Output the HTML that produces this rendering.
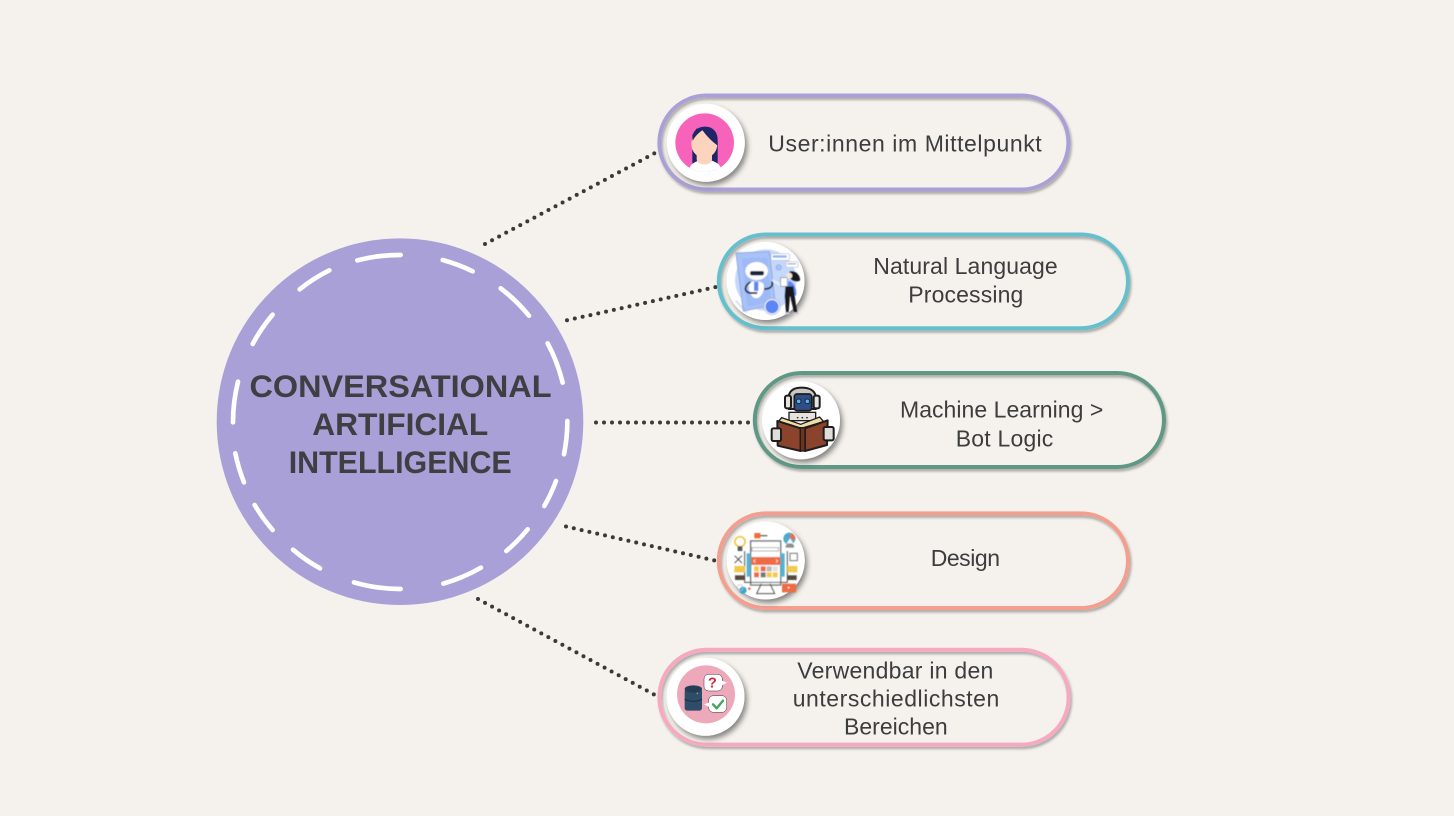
<!DOCTYPE html>
<html lang="de">
<head>
<meta charset="utf-8">
<title>Conversational Artificial Intelligence</title>
<style>
html,body{margin:0;padding:0;background:#f5f2ed;width:1454px;height:816px;overflow:hidden}
svg{display:block}
.t{font-family:"Liberation Sans",sans-serif;font-size:23px;fill:#3d3d3d}
.h{font-family:"Liberation Sans",sans-serif;font-size:31.5px;font-weight:bold;fill:#3f3e43}
.pill{fill:none;stroke-width:4;filter:url(#ps)}
.av{fill:#fff;filter:url(#as)}
.dot{fill:none;stroke:#3a3838;stroke-width:4;stroke-linecap:round;stroke-dasharray:0 8}
.ic{filter:url(#soft)}
</style>
</head>
<body>
<svg width="1454" height="816" viewBox="0 0 1454 816" xmlns="http://www.w3.org/2000/svg">
<defs>
<filter id="ps" x="-5%" y="-15%" width="110%" height="130%"><feDropShadow dx="1.5" dy="2.5" stdDeviation="1.4" flood-color="#000" flood-opacity=".3"/></filter>
<filter id="as" x="-20%" y="-20%" width="150%" height="150%"><feDropShadow dx="2.5" dy="3.5" stdDeviation="2.6" flood-color="#000" flood-opacity=".45"/></filter>
<filter id="soft" x="-5%" y="-5%" width="110%" height="110%"><feGaussianBlur stdDeviation="1.2"/></filter>
<clipPath id="c1"><circle cx="164" cy="173" r="88"/></clipPath>
</defs>
<rect width="1454" height="816" fill="#f5f2ed"/>

<!-- connectors -->
<path class="dot" d="M485 244L655 153"/>
<path class="dot" d="M567 320.3L716 287"/>
<path class="dot" d="M596 422.5L751 422.5"/>
<path class="dot" d="M566 526.5L717 561"/>
<path class="dot" d="M478 599L655 695"/>

<!-- main circle -->
<circle cx="400" cy="421.7" r="183.3" fill="#a8a0d6"/>
<g transform="translate(210 235) scale(.33333)" fill="none" stroke="#fff" stroke-width="14" stroke-linecap="round">
<path d="M442 76A502 502 0 0 1 572 60"/>
<path d="M698 75A502 502 0 0 1 788 109"/>
<path d="M872 160A502 502 0 0 1 957 242"/>
<path d="M1013 325A502 502 0 0 1 1058 443"/>
<path d="M1072 558A502 502 0 0 1 1062 658"/>
<path d="M1038 738A502 502 0 0 1 1003 813"/>
<path d="M953 883A502 502 0 0 1 889 948"/>
<path d="M813 998A502 502 0 0 1 700 1046"/>
<path d="M572 1062A502 502 0 0 1 432 1042"/>
<path d="M330 1000A502 502 0 0 1 249 944"/>
<path d="M188 885A502 502 0 0 1 134 810"/>
<path d="M102 742A502 502 0 0 1 76 655"/>
<path d="M69 562A502 502 0 0 1 84 440"/>
<path d="M128 327A502 502 0 0 1 188 239"/>
<path d="M269 163A502 502 0 0 1 358 106"/>
</g>
<text class="h" x="249.5" y="397" textLength="302" lengthAdjust="spacingAndGlyphs">CONVERSATIONAL</text>
<text class="h" x="312.3" y="435" textLength="176" lengthAdjust="spacingAndGlyphs">ARTIFICIAL</text>
<text class="h" x="288.7" y="473" textLength="223" lengthAdjust="spacingAndGlyphs">INTELLIGENCE</text>

<!-- pills -->
<rect class="pill" stroke="#a8a0d6" x="659.4" y="95.5" width="409" height="94" rx="47"/>
<rect class="pill" stroke="#65bfcd" x="718.8" y="234.5" width="409.2" height="93.7" rx="46.8"/>
<rect class="pill" stroke="#5f9986" x="754.8" y="373" width="409.2" height="94" rx="47"/>
<rect class="pill" stroke="#f49e8f" x="718.8" y="513.4" width="409.2" height="94.6" rx="47"/>
<rect class="pill" stroke="#f6a9c1" x="659.4" y="649.8" width="409.2" height="94.8" rx="47"/>

<!-- avatars -->
<circle class="av" cx="705.8" cy="142.8" r="39"/>
<circle class="av" cx="765.5" cy="281" r="39"/>
<circle class="av" cx="801" cy="420.3" r="39"/>
<circle class="av" cx="765.7" cy="560.5" r="39"/>
<circle class="av" cx="705.5" cy="696.7" r="39"/>

<!-- icon 1: user -->
<g transform="translate(650 85) scale(.33333)">
<circle cx="164" cy="173" r="88" fill="#f763bb"/>
<g clip-path="url(#c1)">
<path d="M127 235V160C127 137 145 125 165 125C190 125 203 142 203 165V235Z" fill="#1f2566"/>
<path d="M108 265L125 238Q140 226 165 222Q192 226 206 238L226 265Z" fill="#fff"/>
<path d="M140 200H186V222C186 244 140 244 140 222Z" fill="#fcd3bd"/>
<ellipse cx="163" cy="177" rx="39" ry="42" fill="#fcd3bd"/>
<path d="M155 132C180 128 204 145 203 182C190 172 170 155 155 132Z" fill="#1f2566"/>
<path d="M128 168C136 152 148 142 160 134L140 130L127 150Z" fill="#1f2566"/>
</g>
</g>

<!-- icon 2: NLP -->
<g transform="translate(710 225) scale(.33333)" class="ic">
<circle cx="167" cy="165" r="92" fill="#c6d8fa"/>
<path d="M78 84L178 80L196 238L100 258Z" fill="#a9c3f8" stroke="#8fa9e0" stroke-width="3"/>
<path d="M96 100L172 98L183 230L112 245Z" fill="#9db9f6"/>
<ellipse cx="140" cy="138" rx="34" ry="27" fill="#fff"/>
<rect x="120" y="138" width="42" height="13" rx="6" fill="#1d2440"/>
<path d="M117 175C125 166 155 166 161 178C165 198 152 220 138 220C122 218 114 195 117 175Z" fill="#fff"/>
<rect x="132" y="170" width="13" height="28" fill="#5b86f5"/>
<path d="M120 172C104 182 100 200 120 204L140 204M165 192C178 192 190 185 186 172" fill="none" stroke="#14151f" stroke-width="5" stroke-linecap="round"/>
<circle cx="186" cy="245" r="24" fill="#fff" stroke="#9aa9c8" stroke-width="2"/>
<circle cx="186" cy="245" r="20" fill="#5b86f5"/>
<rect x="183" y="86" width="55" height="20" rx="2" fill="#fff" stroke="#b0bcd8" stroke-width="2"/>
<rect x="188" y="91" width="42" height="7" fill="#8fb2f7"/>
<rect x="228" y="110" width="36" height="17" rx="2" fill="#fff" stroke="#b0bcd8" stroke-width="2"/>
<rect x="232" y="115" width="26" height="3" fill="#8a94a8"/>
<circle cx="206" cy="127" r="8" fill="#a9c3f8" stroke="#7e9fe8" stroke-width="2"/>
<path d="M238 140C250 132 272 148 270 166C262 172 248 170 240 160Z" fill="#14151f"/>
<path d="M235 168C252 168 262 195 258 212L232 214Z" fill="#5b86f5"/>
<path d="M226 184L250 184L258 240L262 262L252 262L240 212L236 262L228 262L224 214Z" fill="#14151f"/>
<path d="M186 162L214 176L212 184L188 170Z" fill="#e8eefc"/>
<rect x="212" y="158" width="20" height="26" fill="#fff" stroke="#6b7690" stroke-width="2"/>
<circle cx="238" cy="152" r="9" fill="#f5e4da"/>
<path d="M225 262h14v6h-14zM252 262h14v6h-14z" fill="#c8ccd6"/>
<path d="M78 228L110 262" stroke="#8fa9e0" stroke-width="5" stroke-dasharray="2 3"/>
</g>

<!-- icon 3: robot reading -->
<g transform="translate(745 365) scale(.33333)">
<path d="M132 90C136 75 150 68 170 68C192 68 208 76 212 92V132H132Z" fill="#c9c7c0" stroke="#1d1d1d" stroke-width="6"/>
<rect x="120" y="92" width="18" height="38" rx="6" fill="#e6e5e0" stroke="#1d1d1d" stroke-width="6"/>
<rect x="206" y="92" width="18" height="38" rx="6" fill="#e6e5e0" stroke="#1d1d1d" stroke-width="6"/>
<rect x="148" y="87" width="52" height="50" rx="8" fill="#2f4d86" stroke="#1d1d1d" stroke-width="5"/>
<circle cx="161" cy="109" r="7" fill="#58b2e8" stroke="#14233f" stroke-width="3"/>
<circle cx="187" cy="109" r="7" fill="#58b2e8" stroke="#14233f" stroke-width="3"/>
<rect x="132" y="142" width="80" height="25" fill="#e5e3dc" stroke="#1d1d1d" stroke-width="4"/>
<circle cx="158" cy="158" r="2.5" fill="#222"/><circle cx="172" cy="158" r="2.5" fill="#222"/><circle cx="186" cy="158" r="2.5" fill="#222"/>
<path d="M110 158L167 178L224 156L236 170L168 190L98 172Z" fill="#f0dca8" stroke="#1d1d1d" stroke-width="4"/>
<path d="M97 168L167 190V258L98 242Z" fill="#8b432b" stroke="#1d1d1d" stroke-width="6" stroke-linejoin="round"/>
<path d="M248 166L180 190V258L246 240Z" fill="#8b432b" stroke="#1d1d1d" stroke-width="6" stroke-linejoin="round"/>
<rect x="166" y="188" width="14" height="70" fill="#6f321e" stroke="#1d1d1d" stroke-width="4"/>
<rect x="80" y="190" width="28" height="38" rx="5" fill="#dfded8" stroke="#1d1d1d" stroke-width="6"/>
<rect x="236" y="186" width="30" height="40" rx="5" fill="#dfded8" stroke="#1d1d1d" stroke-width="6"/>
</g>

<!-- icon 4: design -->
<g transform="translate(710 505) scale(.33333)" class="ic">
<rect x="133" y="84" width="18" height="16" fill="#ee6a3a"/>
<path d="M150 92H172" stroke="#666" stroke-width="4"/>
<circle cx="90" cy="110" r="15" fill="#fff" stroke="#f2c531" stroke-width="5"/>
<rect x="83" y="124" width="14" height="14" fill="#555"/>
<rect x="122" y="108" width="90" height="132" fill="#fff" stroke="#6c6c6c" stroke-width="4"/>
<rect x="126" y="128" width="80" height="10" fill="#fff" stroke="#888" stroke-width="2"/>
<rect x="124" y="156" width="88" height="24" fill="#ef6a45"/>
<path d="M136 163l-5 5 5 5M198 163l5 5-5 5" fill="none" stroke="#fff" stroke-width="2"/>
<rect x="110" y="145" width="12" height="70" fill="#4fb4d4"/>
<rect x="212" y="145" width="12" height="70" fill="#4fb4d4"/>
<path d="M104 138V232H232V138" fill="none" stroke="#555" stroke-width="3"/>
<rect x="132" y="184" width="15" height="15" fill="#f5c84a"/><rect x="152" y="184" width="15" height="15" fill="#ef6a45"/><rect x="170" y="184" width="15" height="15" fill="#b8b8b4"/><rect x="188" y="184" width="15" height="15" fill="#e0e0dc"/>
<rect x="132" y="202" width="15" height="15" fill="#ef6a45"/><rect x="152" y="202" width="15" height="15" fill="#777"/><rect x="170" y="202" width="15" height="15" fill="#f5c84a"/><rect x="188" y="202" width="15" height="15" fill="#f5c84a"/>
<path d="M154 236L140 266H194L180 236" fill="none" stroke="#555" stroke-width="3"/>
<rect x="73" y="183" width="32" height="19" fill="#f2c94c"/>
<rect x="232" y="183" width="30" height="19" fill="#f2c94c"/>
<rect x="75" y="211" width="30" height="14" fill="#55493f"/>
<rect x="232" y="211" width="28" height="14" fill="#55493f"/>
<rect x="216" y="236" width="42" height="26" fill="#ef6a3f"/>
<rect x="233" y="246" width="6" height="4" fill="#fff"/>
<circle cx="238" cy="101" r="18" fill="#4fa8cc"/>
<path d="M244 84A18 18 0 0 1 256 105L240 100Z" fill="#ef6a45"/>
<path d="M228 120A20 20 0 0 1 252 120L252 128H226Z" fill="#8f8f8a"/>
<path d="M230 115L240 100L250 115Z" fill="#fff"/>
<path d="M74 152L96 174M96 152L74 174" stroke="#555" stroke-width="3"/>
<rect x="240" y="145" width="22" height="22" fill="none" stroke="#777" stroke-width="3"/>
<circle cx="99" cy="256" r="11" fill="#3aa9cf"/>
<circle cx="90" cy="248" r="9" fill="none" stroke="#bbb" stroke-width="2"/>
<circle cx="118" cy="251" r="4" fill="#ef6a45"/>
</g>

<!-- icon 5: data -->
<g transform="translate(650 640) scale(.33333)">
<circle cx="168" cy="163" r="87" fill="#eda9b9"/>
<rect x="104" y="146" width="52" height="66" rx="8" fill="#2f4c68"/>
<ellipse cx="130" cy="147" rx="26" ry="11" fill="#253d56"/>
<path d="M104 178Q130 190 156 178" fill="none" stroke="#1b2c40" stroke-width="3"/>
<circle cx="142" cy="160" r="2.5" fill="#59c15c"/>
<rect x="162" y="103" width="55" height="50" rx="14" fill="#fff" stroke="#33364a" stroke-width="1.5"/>
<path d="M215 122L231 128L215 136Z" fill="#fff"/>
<text x="187" y="143" text-anchor="middle" font-family="Liberation Sans,sans-serif" font-size="44" font-weight="bold" fill="#d5273f">?</text>
<rect x="176" y="167" width="54" height="50" rx="14" fill="#fff" stroke="#33364a" stroke-width="1.5"/>
<path d="M178 187L162 193L178 201Z" fill="#fff"/>
<path d="M189 193L200 205L219 182" fill="none" stroke="#3fa65a" stroke-width="7" stroke-linecap="round" stroke-linejoin="round"/>
</g>

<!-- labels -->
<text class="t" x="768.3" y="151.7" textLength="273.4">User:innen im Mittelpunkt</text>
<text class="t" x="873.3" y="274" textLength="184.4">Natural Language</text>
<text class="t" x="908.3" y="302.3" textLength="115">Processing</text>
<text class="t" x="900" y="417.7" textLength="203.3">Machine Learning &gt;</text>
<text class="t" x="955.7" y="446.7" textLength="97.6">Bot Logic</text>
<text class="t" x="930.7" y="566" textLength="69.3">Design</text>
<text class="t" x="797.3" y="678.3" textLength="196">Verwendbar in den</text>
<text class="t" x="792.7" y="706.7" textLength="206.6">unterschiedlichsten</text>
<text class="t" x="844" y="734.3" textLength="103.7">Bereichen</text>
</svg>
</body>
</html>
